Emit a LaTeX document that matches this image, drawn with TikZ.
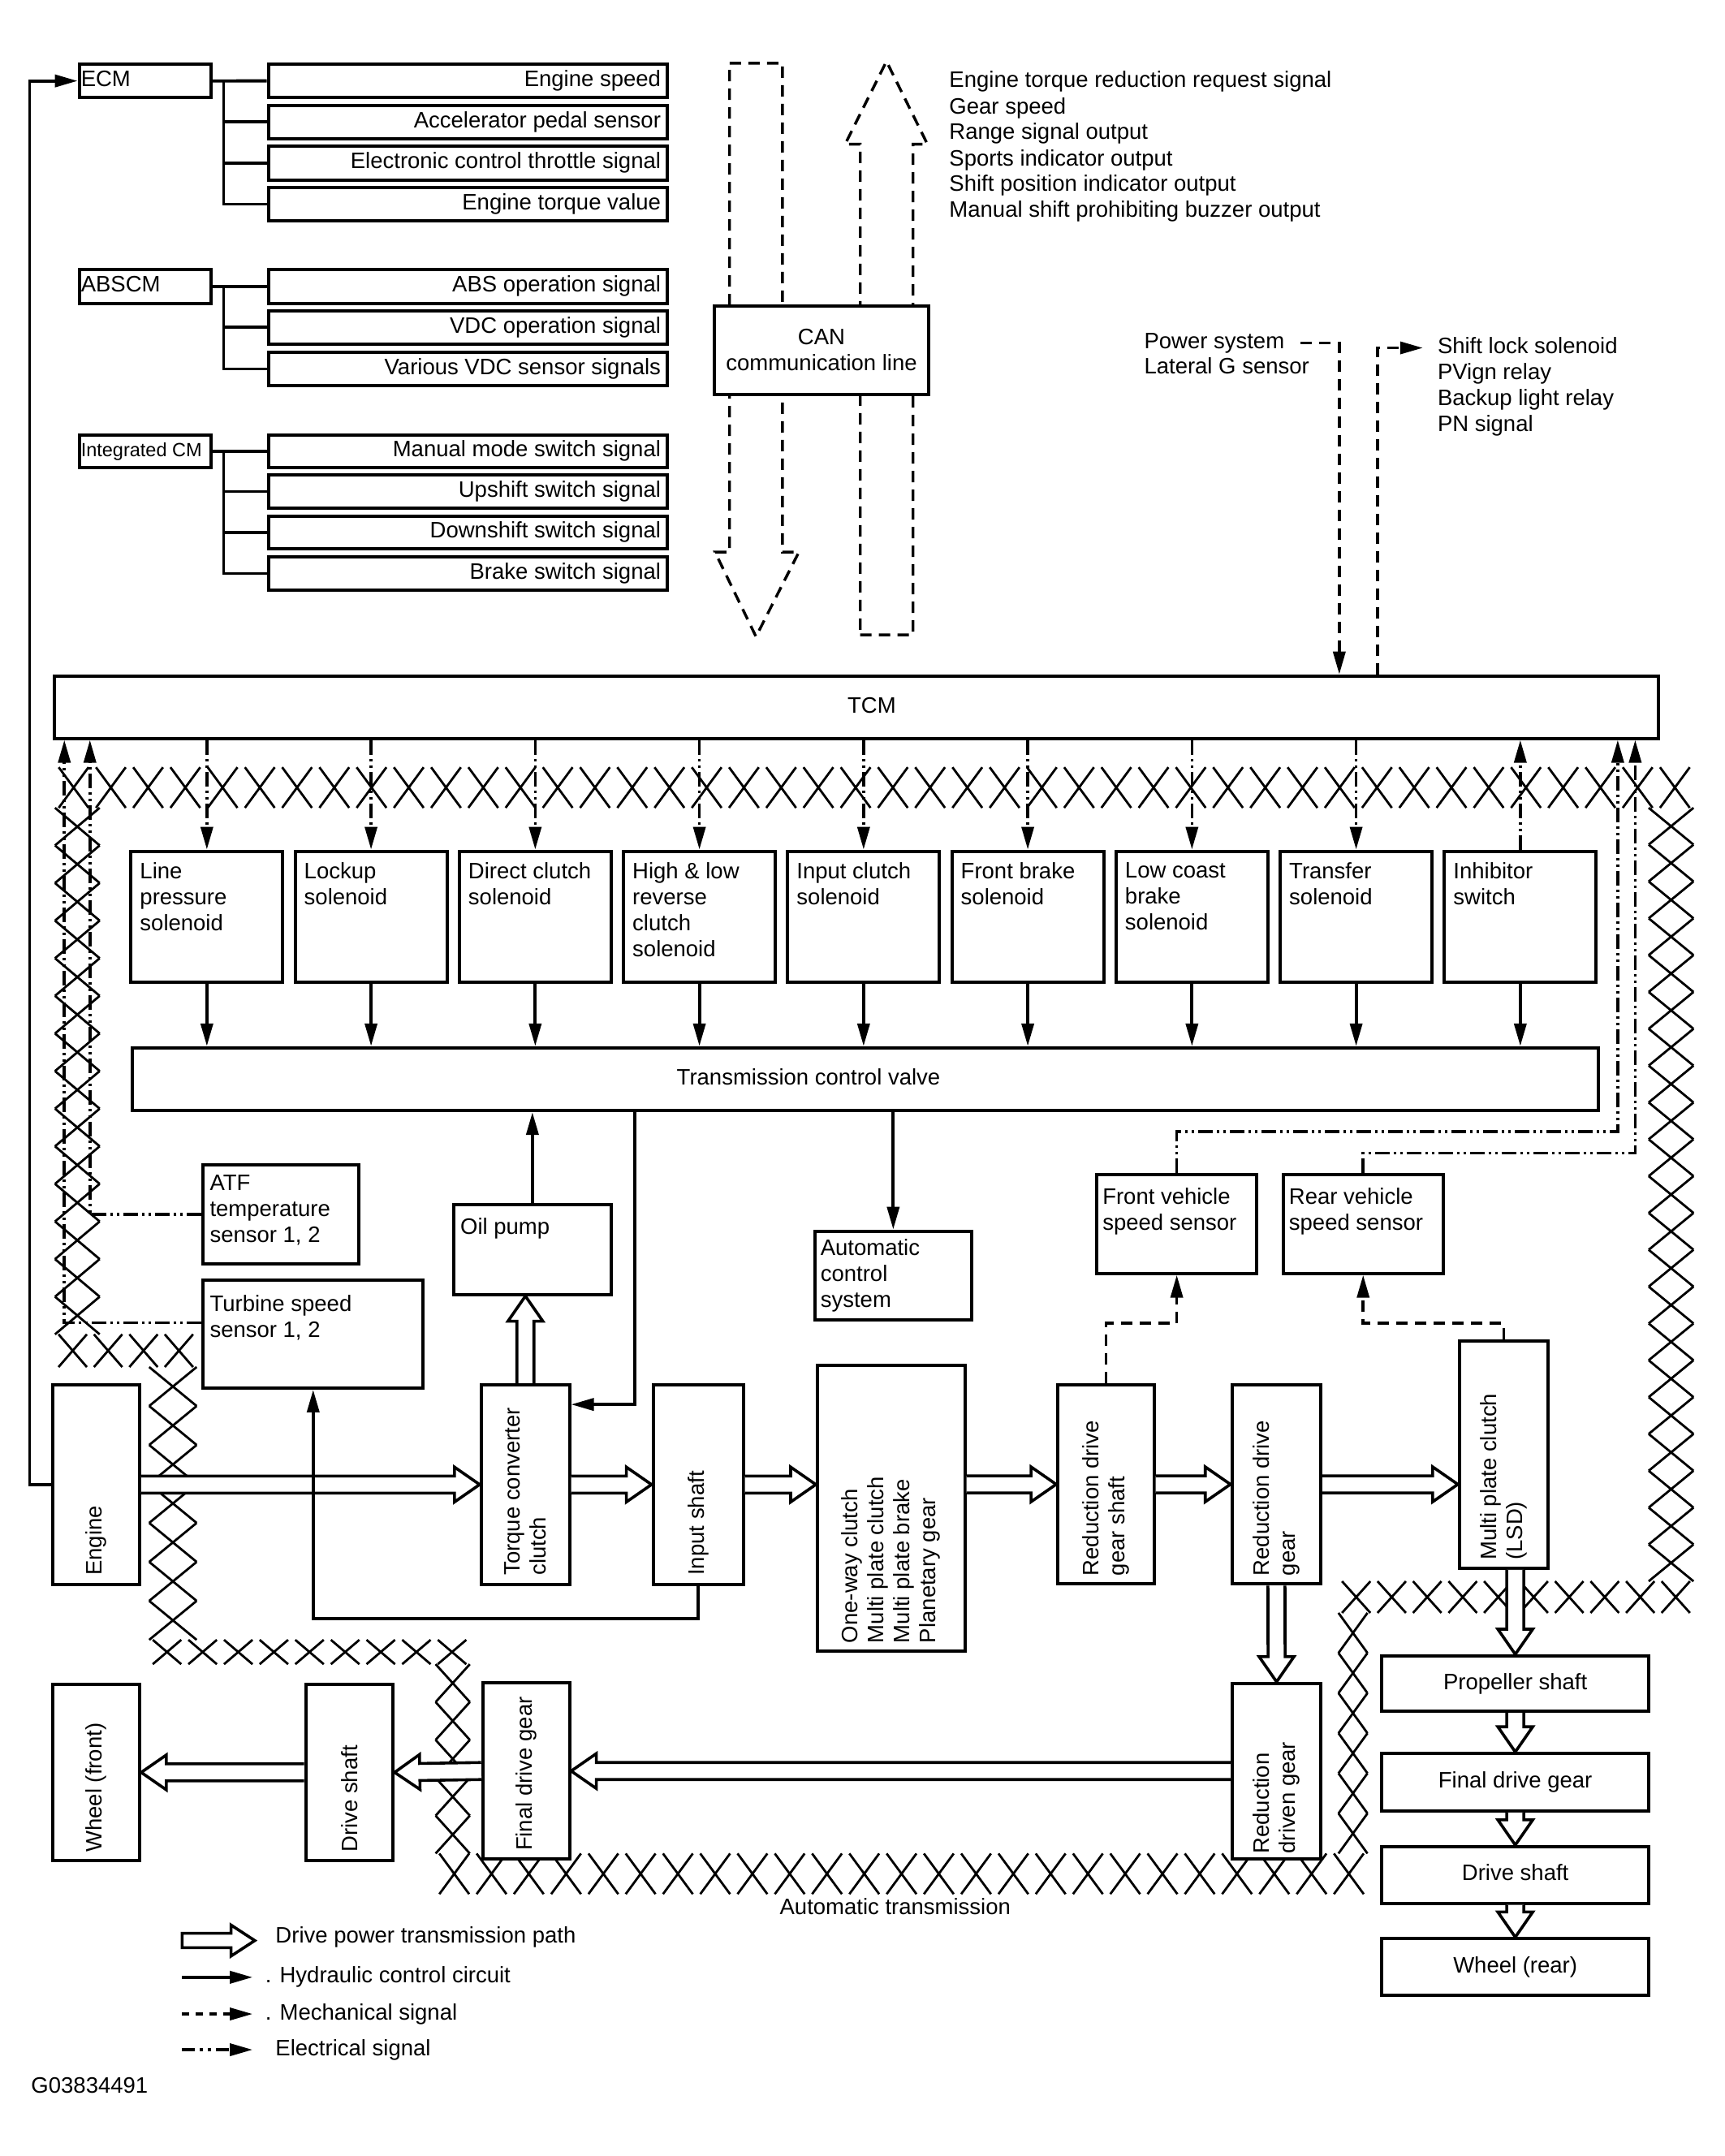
\documentclass[tikz,border=0pt]{standalone}
\usepackage{fontspec}
\setmainfont{Liberation Sans}
\usetikzlibrary{arrows.meta,calc,fit}
\newcommand\fsz{\fontsize{27.5}{32}\selectfont}
\newcommand\fsm{\fontsize{23.5}{28}\selectfont}
\tikzset{
  box/.style={draw, line width=4pt, fill=white, inner sep=0pt},
  lbl/.style={font=\fsz, inner sep=0pt, align=left},
  sl/.style={text height=20pt, text depth=6pt},
  rlbl/.style={font=\fsz, inner sep=0pt, align=left, rotate=90, anchor=west},
  mytip/.style={-{Triangle[length=28pt,width=15pt]}},
  hyd/.style={line width=3.8pt, mytip},
  ele/.style={line width=3.6pt, dash pattern=on 18pt off 5pt on 3pt off 5pt on 3pt off 5pt, mytip},
  mech/.style={line width=3.6pt, dash pattern=on 14pt off 9pt, mytip},
  brk/.style={line width=3.8pt},
  hatch/.style={line width=2.8pt},
  holl/.style={line width=3.6pt, fill=white, line join=miter},
  canarr/.style={line width=3.4pt, dash pattern=on 14pt off 9pt, line join=miter},
}
\newcommand\hatchH[4]{%
  \pgfmathtruncatemacro\hatchn{max(1,round((#2-(#1))/27))}%
  \pgfmathsetmacro\hatchp{(#2-(#1))/\hatchn}%
  \foreach \j in {1,...,\hatchn}{%
    \pgfmathsetmacro\hxa{#1+(\j-0.5)*\hatchp-0.4*\hatchp}%
    \pgfmathsetmacro\hxb{#1+(\j-0.5)*\hatchp+0.4*\hatchp}%
    \draw[hatch] (\hxa,#3) -- (\hxb,#4) (\hxa,#4) -- (\hxb,#3);}}
\newcommand\hatchV[4]{%
  \pgfmathtruncatemacro\hatchn{max(1,round((#2-(#1))/27))}%
  \pgfmathsetmacro\hatchp{(#2-(#1))/\hatchn}%
  \foreach \j in {1,...,\hatchn}{%
    \draw[hatch] (#3,{#1+(\j-1)*\hatchp}) -- (#4,{#1+\j*\hatchp})
                 (#4,{#1+(\j-1)*\hatchp}) -- (#3,{#1+\j*\hatchp});}}
\newcommand\hol[2]{%
  \coordinate (hA) at (#1); \coordinate (hB) at (#2);
  \coordinate (hC) at ($(hB)!31pt!(hA)$);
  \draw[holl] ($(hA)!10.5pt!90:(hB)$) -- ($(hC)!10.5pt!90:(hB)$) -- ($(hC)!21.5pt!90:(hB)$) -- (hB)
     -- ($(hC)!21.5pt!-90:(hB)$) -- ($(hC)!10.5pt!-90:(hB)$) -- ($(hA)!10.5pt!-90:(hB)$);}

\begin{document}
\begin{tikzpicture}[x=1.6938pt, y={(0pt,-1.6938pt)}]
\useasboundingbox (0,0) rectangle (1254,1568);
\fill[white] (0,0) rectangle (1254,1568);

% ---------- hatch border of the automatic transmission ----------
\hatchH{40}{1231.6}{558}{587.5}
\hatchV{587.5}{970.4}{40}{72.5}
\hatchH{40}{143}{970.4}{994.2}
\hatchV{994.2}{1192.6}{108.5}{143}
\hatchH{108.5}{341.7}{1192.6}{1210.3}
\hatchV{1210.3}{1348}{316.8}{341.7}
\hatchH{316.8}{994.5}{1348}{1377.5}
\hatchV{1173}{1348}{973.4}{994.5}
\hatchH{973.4}{1231.6}{1150}{1173}
\hatchV{587.5}{1150}{1199}{1231.6}

% ---------- CAN big dashed arrows ----------
\draw[canarr] (530.6,46) -- (569,46) -- (569,401.5) -- (581,401.5) -- (549.8,463) -- (520,401.5) -- (530.6,401.5) -- cycle;
\draw[canarr] (625.6,461.7) -- (664,461.7) -- (664,104.9) -- (674.5,104.9) -- (644.7,44.6) -- (614.6,104.9) -- (625.6,104.9) -- cycle;
\node[box, fit={(519.5,222.3)(675.4,287)}] (can) {};
\node[lbl, align=center] (cant) at (can.center) {CAN\\communication line};

% ---------- control modules and their signals ----------
\node[box, fit={(57.6,46.6)(153.6,71.1)}] (ecm) {};
\node[lbl, sl, anchor=west] (ecmt) at ([xshift=4pt]ecm.west) {ECM};
\node[box, fit={(57.6,196)(153.6,220.6)}] (absm) {};
\node[lbl, sl, anchor=west] (absmt) at ([xshift=4pt]absm.west) {ABSCM};
\node[box, fit={(57.6,316.3)(153.6,340)}] (icm) {};
\node[lbl, sl, font=\fsm, anchor=west] (icmt) at ([xshift=4pt]icm.west) {Integrated CM};

\foreach \n/\ya/\yb/\t in {e1/46.6/71/Engine speed, e2/76.5/100.7/Accelerator pedal sensor,
   e3/106/131/Electronic control throttle signal, e4/136.4/160.6/Engine torque value,
   a1/196/220.6/ABS operation signal, a2/225.9/250.3/VDC operation signal,
   a3/256.2/280.4/Various VDC sensor signals,
   i1/316.3/340/Manual mode switch signal, i2/345.4/369.6/Upshift switch signal,
   i3/375.3/399/Downshift switch signal, i4/405/429.2/Brake switch signal}{
  \node[box, fit={(195.2,\ya)(485.4,\yb)}] (\n) {};
  \node[lbl, sl, anchor=east] (t\n) at ([xshift=-10pt]\n.east) {\t};
}
\draw[brk] (ecm.east) -- (e1.west);
\draw[brk] (162.6,0 |- e1.west) |- (e4.west);
\foreach \n in {e2,e3} \draw[brk] (162.6,0 |- \n.west) -- (\n.west);
\draw[brk] (absm.east) -- (a1.west);
\draw[brk] (162.6,0 |- a1.west) |- (a3.west);
\draw[brk] (162.6,0 |- a2.west) -- (a2.west);
\draw[brk] (icm.east) -- (i1.west);
\draw[brk] (162.6,0 |- i1.west) |- (i4.west);
\foreach \n in {i2,i3} \draw[brk] (162.6,0 |- \n.west) -- (\n.west);

% ---------- output list ----------
\foreach \k/\yy/\t in {1/59.6/Engine torque reduction request signal, 2/78.6/Gear speed,
   3/97.3/Range signal output, 4/116.3/Sports indicator output,
   5/135/Shift position indicator output, 6/153.7/Manual shift prohibiting buzzer output}{
  \node[lbl, sl, anchor=west] (tr\k) at (690.3,\yy) {\t};
}
\node[lbl, sl, anchor=west] (pw1) at (832,249.4) {Power system};
\node[lbl, sl, anchor=west] (pw2) at (832,268) {Lateral G sensor};
\node[lbl, sl, anchor=west] (sl1) at (1045.4,253) {Shift lock solenoid};
\node[lbl, sl, anchor=west] (sl2) at (1045.4,272) {PVign relay};
\node[lbl, sl, anchor=west] (sl3) at (1045.4,291) {Backup light relay};
\node[lbl, sl, anchor=west] (sl4) at (1045.4,309.7) {PN signal};

% ---------- TCM, solenoids, control valve ----------
\node[box, fit={(39.3,491.6)(1206,537)}] (tcm) {};
\node[lbl, sl] (tcmt) at (tcm.center -| 634,0) {TCM};
\node[box, fit={(96.5,762)(1162.5,807.7)}] (tcv) {};
\node[lbl, sl] (tcvt) at (tcv.center -| 588,0) {Transmission control valve};

\draw[mech] ([xshift=20pt]pw1.east) -| (974,0 |- tcm.north);
\draw[mech] (1002,0 |- tcm.north) |- ([xshift=-18pt]sl1.west);

\foreach \i/\t in {1/{Line\\pressure\\solenoid}, 2/{Lockup\\solenoid}, 3/{Direct clutch\\solenoid},
   4/{High \& low\\reverse\\clutch\\solenoid}, 5/{Input clutch\\solenoid}, 6/{Front brake\\solenoid},
   7/{Low coast\\brake\\solenoid}, 8/{Transfer\\solenoid}, 9/{Inhibitor\\switch}}{
  \pgfmathsetmacro\sxa{95.2+119.4*(\i-1)}
  \pgfmathsetmacro\sxb{\sxa+110.5}
  \node[box, fit={(\sxa,619)(\sxb,714.4)}] (s\i) {};
  \node[lbl, anchor=north west] (st\i) at ([shift={(13pt,-16pt)}]s\i.north west) {\t};
  \draw[hyd] (s\i.south) -- (s\i.south |- tcv.north);
}
\foreach \i in {1,...,8} \draw[ele] (tcm.south -| s\i.north) -- (s\i.north);
\draw[ele] (s9.north) -- (tcm.south -| s9.north);

% ---------- sensors and pump ----------
\node[box, fit={(147.8,847.4)(260.9,919)}] (atf) {};
\node[lbl, anchor=north west] (atft) at ([shift={(10pt,-14pt)}]atf.north west) {ATF\\temperature\\sensor 1, 2};
\node[box, fit={(147.8,931)(307.7,1009.5)}] (turb) {};
\node[lbl, anchor=north west] (turbt) at ([shift={(10pt,-20pt)}]turb.north west) {Turbine speed\\sensor 1, 2};
\node[box, fit={(330,876)(444.4,941.4)}] (oil) {};
\node[lbl, anchor=north west] (oilt) at ([shift={(10pt,-19pt)}]oil.north west) {Oil pump};
\node[box, fit={(592.5,895.3)(706.7,960)}] (acs) {};
\node[lbl, anchor=north west] (acst) at ([shift={(9pt,-12pt)}]acs.north west) {Automatic\\control\\system};
\node[box, fit={(797.6,854.4)(914,926.1)}] (fvs) {};
\node[lbl, anchor=north west] (fvst) at ([shift={(9pt,-18pt)}]fvs.north west) {Front vehicle\\speed sensor};
\node[box, fit={(933.2,854.4)(1049.5,926.1)}] (rvs) {};
\node[lbl, anchor=north west] (rvst) at ([shift={(9pt,-18pt)}]rvs.north west) {Rear vehicle\\speed sensor};

\draw[ele] (atf.west) -| (65.4,0 |- tcm.south);
\draw[ele] ([yshift=14pt]turb.west) -| (46.8,0 |- tcm.south);
\draw[ele] (fvs.north) |- (1176.5,822.8) -- (1176.5,0 |- tcm.south);
\draw[ele] (rvs.north) |- (1189.2,838.7) -- (1189.2,0 |- tcm.south);
\draw[hyd] (oil.north) -- (oil.north |- tcv.south);
\draw[hyd] (tcv.south -| acs.north) -- (acs.north);

% ---------- power train ----------
\node[box, fit={(38.5,1007)(101.5,1152.3)}] (eng) {};
\node[box, fit={(350,1007)(414.2,1152.3)}] (tcc) {};
\node[box, fit={(475,1007)(540.5,1152.3)}] (inp) {};
\node[box, fit={(594.5,992.9)(701.7,1200.9)}] (ow) {};
\node[box, fit={(769.3,1007)(839.2,1152)}] (rdgs) {};
\node[box, fit={(896,1007)(960.6,1152)}] (rdg) {};
\node[box, fit={(1061.4,975)(1125.7,1140.5)}] (mpc) {};
\node[box, fit={(896.2,1224.3)(960.6,1351.7)}] (rdrg) {};
\node[box, fit={(351.2,1224)(414.2,1352)}] (fdg) {};
\node[box, fit={(222.4,1225)(285.8,1353)}] (dsf) {};
\node[box, fit={(38.5,1225)(101.5,1353)}] (whf) {};
\node[box, fit={(1005,1204.3)(1199,1244.5)}] (ps) {};
\node[box, fit={(1005,1275.3)(1199,1317)}] (fdr) {};
\node[box, fit={(1005,1343)(1199,1384.2)}] (dsr) {};
\node[box, fit={(1005,1410)(1199,1451.3)}] (whr) {};

\node[rlbl] (engt) at ([yshift=13pt]eng.south) {Engine};
\node[rlbl] (tcct) at ([yshift=13pt]tcc.south) {Torque converter\\clutch};
\node[rlbl] (inpt) at ([yshift=13pt]inp.south) {Input shaft};
\node[rlbl] (owt) at ([yshift=12pt]ow.south) {One-way clutch\\Multi plate clutch\\Multi plate brake\\Planetary gear};
\node[rlbl] (rdgst) at ([yshift=12pt]rdgs.south) {Reduction drive\\gear shaft};
\node[rlbl] (rdgt) at ([yshift=12pt]rdg.south) {Reduction drive\\gear};
\node[rlbl] (mpct) at ([yshift=12pt]mpc.south) {Multi plate clutch\\(LSD)};
\node[rlbl] (rdrgt) at ([yshift=8pt]rdrg.south) {Reduction\\driven gear};
\node[rlbl] (fdgt) at ([yshift=12pt]fdg.south) {Final drive gear};
\node[rlbl] (dsft) at ([yshift=12pt]dsf.south) {Drive shaft};
\node[rlbl] (whft) at ([yshift=12pt]whf.south) {Wheel (front)};
\node[lbl, sl] (pst) at (ps.center) {Propeller shaft};
\node[lbl, sl] (fdrt) at (fdr.center) {Final drive gear};
\node[lbl, sl] (dsrt) at (dsr.center) {Drive shaft};
\node[lbl, sl] (whrt) at (whr.center) {Wheel (rear)};

\hol{eng.east}{tcc.west}
\hol{tcc.east}{inp.west}
\hol{inp.east}{inp.east -| ow.west}
\hol{rdgs.west -| ow.east}{rdgs.west}
\hol{rdgs.east}{rdg.west}
\hol{rdg.east}{rdg.east -| mpc.west}
\hol{tcc.north}{tcc.north |- oil.south}
\hol{rdg.south}{rdrg.north}
\hol{rdrg.west}{fdg.east}
\hol{fdg.west}{dsf.east}
\hol{dsf.west}{whf.east}
\hol{ps.north |- mpc.south}{ps.north}
\hol{ps.south}{fdr.north}
\hol{fdr.south}{dsr.north}
\hol{dsr.south}{whr.north}

\draw[hyd] (eng.west) -| ([xshift=-59pt]ecm.west) -- (ecm.west);
\draw[hyd] (461.8,0 |- tcv.south) |- ([yshift=-26.4pt]tcc.north east);
\draw[hyd] (inp.south) -- ++(0,23.5) -| (turb.south);
\draw[mech] (rdgs.north) |- (fvs.south |- 0,962.4) -- (fvs.south);
\draw[mech] (mpc.north) |- (rvs.south |- 0,962.4) -- (rvs.south);

\node[lbl, sl, anchor=west] (att) at (567,1388) {Automatic transmission};

% ---------- legend ----------
\draw[holl] (132.5,1406) -- (168,1406) -- (168,1400) -- (185.3,1411.3) -- (168,1422.6) -- (168,1416.5) -- (132.5,1416.5) -- cycle;
\coordinate (lh1) at (132.5,1438); \coordinate (lh2) at (183.7,1438);
\coordinate (lm1) at (132.5,1464.7); \coordinate (lm2) at (183.7,1464.7);
\coordinate (le1) at (132.5,1490.7); \coordinate (le2) at (183.7,1490.7);
\draw[hyd] (lh1) -- (lh2);
\draw[mech, dash pattern=on 9pt off 8pt] (lm1) -- (lm2);
\draw[ele, dash pattern=on 16pt off 6pt on 4pt off 6pt on 4pt off 6pt] (le1) -- (le2);
\node[lbl, sl, anchor=west] (lg1) at (200.3,1408.7) {Drive power transmission path};
\node[lbl, sl, anchor=west] (lg2) at (192.8,1438) {. Hydraulic control circuit};
\node[lbl, sl, anchor=west] (lg3) at (192.8,1464.7) {. Mechanical signal};
\node[lbl, sl, anchor=west] (lg4) at (200.3,1490.7) {Electrical signal};
\node[lbl, sl, anchor=west] (gid) at (22.6,1518) {G03834491};
\end{tikzpicture}
\end{document}
